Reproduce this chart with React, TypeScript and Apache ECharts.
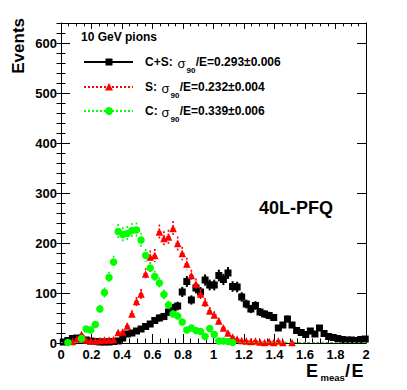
import React, { useEffect, useRef } from 'react';
import * as echarts from 'echarts';

// Histogram binning (bin width 0.03 in E_meas/E), 67 bins shown in [0, 2]
const BIN_WIDTH = 0.03;

// C+S (black squares)
const csValues = [
  2, 5, 9, 10, 8, 6, 4, 3, 2, 2,
  2, 3, 4, 10, 18, 20, 24, 28, 33, 38,
  45, 50, 53, 62, 70, 74, 102, 123, 86, 110,
  102, 126, 116, 116, 135, 127, 140, 113, 112, 92,
  78, 68, 75, 62, 58, 55, 51, 30, 36, 48,
  36, 25, 21, 17, 24, 18, 30, 19, 13, 11,
  9, 7, 6, 6, 5, 7, 8,
];

// S (red triangles)
const sValues = [
  0, 0, 3, 8, 17, 6, 4, 4, 5, 6,
  6, 7, 21, 22, 34, 58, 83, 98, 138, 172,
  175, 222, 209, 212, 229, 199, 179, 158, 135, 118,
  98, 81, 64, 56, 44, 30, 20, 12, 8, 5,
  4, 3, 4, 2, 1, 3, 1, 4, 1, 0,
  1, 0, 0, 0, 0, 0, 0, 0, 0, 0,
  0, 0, 0, 0, 0, 0, 0,
];

// C (green circles)
const cValues = [
  0, 1, 0, 0, 9, 28, 26, 37, 68, 101,
  131, 162, 223, 217, 219, 225, 226, 206, 175, 150,
  133, 120, 97, 76, 58, 54, 42, 26, 30, 25,
  23, 13, 29, 17, 4, 4, 3, 1, 0, 0,
  0, 0, 0, 0, 0, 0, 0, 0, 0, 0,
  0, 0, 0, 0, 0, 0, 0, 0, 0, 0,
  0, 0, 0, 0, 0, 0, 0,
];

const legendLabels = [
  { name: 'C+S:', value: '0.293', err: '0.006' },
  { name: 'S:', value: '0.232', err: '0.004' },
  { name: 'C:', value: '0.339', err: '0.006' },
];

const FONT = '"Liberation Sans", Arial, Helvetica, sans-serif';
const BLACK = '#000000';
const RED = '#ff0000';
const GREEN = '#00ff00';

function points(values: number[]) {
  return values.map((v, i) => [(i + 0.5) * BIN_WIDTH, v]);
}

function errorSeries(values: number[], color: string, width: number, dash: number[] | null, z: number) {
  return {
    type: 'custom',
    z,
    clip: true,
    silent: true,
    data: points(values),
    encode: { x: 0, y: 1 },
    renderItem: (params: any, api: any) => {
      const x = api.value(0);
      const y = api.value(1);
      const c = api.coord([x, y]);
      const half = api.size([BIN_WIDTH, 0])[0] / 2;
      const e = Math.sqrt(y);
      const t = api.coord([x, y + e]);
      const b = api.coord([x, Math.max(0, y - e)]);
      const style: any = { stroke: color, lineWidth: width, fill: null };
      if (dash) style.lineDash = dash;
      return {
        type: 'group',
        children: [
          { type: 'line', shape: { x1: c[0] - half, y1: c[1], x2: c[0] + half, y2: c[1] }, style },
          { type: 'line', shape: { x1: c[0], y1: t[1], x2: c[0], y2: b[1] }, style },
        ],
      };
    },
  };
}

function markerSeries(values: number[], color: string, symbol: string, size: number, z: number) {
  return {
    type: 'scatter',
    z,
    silent: true,
    symbol,
    symbolSize: size,
    itemStyle: { color, opacity: 1 },
    data: points(values).filter((p) => p[1] > 0),
  };
}

function txt(text: string, x: number, y: number, font: string, align = 'left') {
  return {
    type: 'text',
    x,
    y,
    z: 10,
    style: { text, font, fill: '#000', textAlign: align, textVerticalAlign: 'middle', verticalAlign: 'middle' },
  };
}

function legendEntry(idx: number, y: number, sigmaX: number, color: string, dash: number[] | null, marker: any) {
  const lab = legendLabels[idx];
  const lineStyle: any = { stroke: color, lineWidth: 2 };
  if (dash) lineStyle.lineDash = dash;
  return [
    { type: 'line', shape: { x1: 84, y1: y, x2: 133, y2: y }, style: lineStyle, z: 10 },
    { ...marker, z: 11 },
    txt(lab.name, 145, y, `bold 12px ${FONT}`),
    txt('σ', sigmaX, y + 1, `13px ${FONT}`),
    txt('90', sigmaX + 9, y + 8, `bold 8px ${FONT}`),
    txt(`/E=${lab.value}±${lab.err}`, sigmaX + 18.2, y, `bold 12px ${FONT}`),
  ];
}

export default function App() {
  const ref = useRef<HTMLDivElement>(null);

  useEffect(() => {
    if (!ref.current) return;
    const chart = echarts.init(ref.current, null, { renderer: 'svg' });

    const baseX = {
      type: 'value',
      min: 0,
      max: 2,
      interval: 0.2,
      splitLine: { show: false },
      minorSplitLine: { show: false },
    };
    const baseY = {
      type: 'value',
      min: 0,
      max: 640,
      splitLine: { show: false },
      minorSplitLine: { show: false },
    };

    const option: any = {
      animation: false,
      backgroundColor: '#ffffff',
      grid: { left: 61, right: 41, top: 23, bottom: 47, containLabel: false },
      xAxis: [
        {
          ...baseX,
          position: 'bottom',
          axisLine: { show: true, onZero: false, lineStyle: { color: BLACK, width: 1 } },
          axisTick: { show: true, inside: true, length: 9, lineStyle: { color: BLACK, width: 1 } },
          minorTick: { show: true, splitNumber: 4, length: 4.5, lineStyle: { color: BLACK, width: 1 } },
          axisLabel: { show: true, fontFamily: FONT, fontWeight: 'bold', fontSize: 13, color: BLACK, margin: 5 },
        },
        {
          ...baseX,
          position: 'top',
          axisLine: { show: true, onZero: false, lineStyle: { color: BLACK, width: 1 } },
          axisTick: { show: true, inside: true, length: 6, lineStyle: { color: BLACK, width: 1 } },
          minorTick: { show: true, splitNumber: 4, length: 3.3, lineStyle: { color: BLACK, width: 1 } },
          axisLabel: { show: false },
        },
      ],
      yAxis: [
        {
          ...baseY,
          interval: 100,
          position: 'left',
          axisLine: { show: true, onZero: false, lineStyle: { color: BLACK, width: 1 } },
          axisTick: { show: true, inside: true, length: 9, lineStyle: { color: BLACK, width: 1 } },
          axisLabel: {
            show: true, fontFamily: FONT, fontWeight: 'bold', fontSize: 13, color: BLACK, margin: 4,
            showMaxLabel: false,
          },
        },
        {
          ...baseY,
          interval: 20,
          position: 'left',
          axisLine: { show: false },
          axisTick: { show: true, inside: true, length: 4.5, lineStyle: { color: BLACK, width: 1 } },
          axisLabel: { show: false },
        },
        {
          ...baseY,
          interval: 100,
          position: 'right',
          axisLine: { show: true, onZero: false, lineStyle: { color: BLACK, width: 1 } },
          axisTick: { show: true, inside: true, length: 9, lineStyle: { color: BLACK, width: 1 } },
          axisLabel: { show: false },
        },
        {
          ...baseY,
          interval: 20,
          position: 'right',
          axisLine: { show: false },
          axisTick: { show: true, inside: true, length: 4.5, lineStyle: { color: BLACK, width: 1 } },
          axisLabel: { show: false },
        },
      ],
      series: [
        errorSeries(csValues, BLACK, 2, null, 2),
        markerSeries(csValues, BLACK, 'rect', 7, 3),
        errorSeries(sValues, RED, 1.6, [2, 2], 4),
        markerSeries(sValues, RED, 'triangle', 7.5, 5),
        errorSeries(cValues, GREEN, 1.6, [2, 2], 6),
        markerSeries(cValues, GREEN, 'circle', 7.5, 7),
      ],
      graphic: [
        {
          type: 'text',
          x: 18,
          y: 18,
          rotation: Math.PI / 2,
          style: {
            text: 'Events',
            font: `bold 17px ${FONT}`,
            fill: '#000',
            textAlign: 'right',
            textVerticalAlign: 'middle',
            verticalAlign: 'middle',
          },
        },
        txt('E', 306, 371, `bold 18px ${FONT}`),
        txt('meas', 320.5, 377, `bold 9.5px ${FONT}`),
        txt('/', 345, 371, `bold 18px ${FONT}`),
        txt('E', 351.5, 371, `bold 18px ${FONT}`),
        txt('10 GeV pions', 81, 37, `bold 12px ${FONT}`),
        txt('40L-PFQ', 259, 208, `bold 18px ${FONT}`),
        ...legendEntry(0, 62, 177.5, BLACK, null, {
          type: 'rect', shape: { x: 105.5, y: 58.5, width: 7, height: 7 }, style: { fill: BLACK },
        }),
        ...legendEntry(1, 87, 161.5, RED, [2, 2], {
          type: 'polygon', shape: { points: [[109, 83], [113, 90.5], [105, 90.5]] }, style: { fill: RED },
        }),
        ...legendEntry(2, 111, 161.5, GREEN, [2, 2], {
          type: 'circle', shape: { cx: 109, cy: 111, r: 4 }, style: { fill: GREEN },
        }),
      ],
    };

    chart.setOption(option);
    return () => {
      chart.dispose();
    };
  }, []);

  return (
    <div
      ref={ref}
      style={{ position: 'fixed', left: 0, top: 0, width: 407, height: 390, background: '#fff' }}
    />
  );
}
